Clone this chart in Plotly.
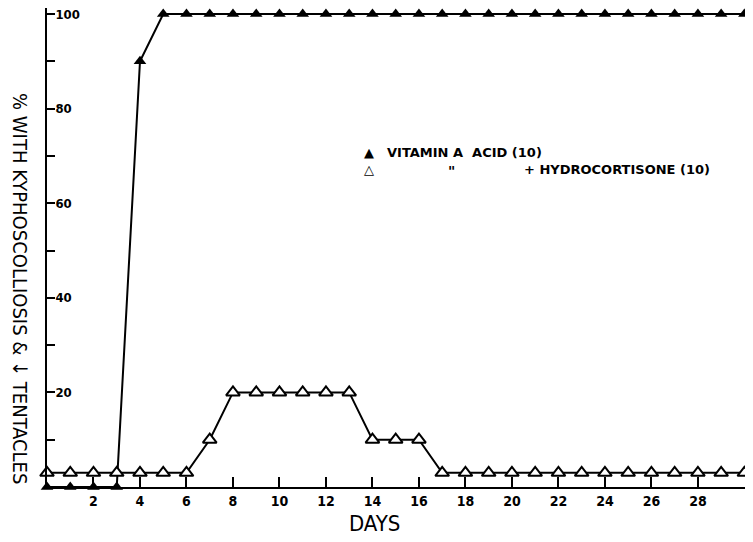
import plotly.graph_objects as go

days = list(range(0, 31))
vitamin_a = [0, 0, 0, 0, 90] + [100] * 26
vitamin_a_hc = [3, 3, 3, 3, 3, 3, 3, 10, 20, 20, 20, 20, 20, 20, 10, 10, 10] + [3] * 14

x_ticks = list(range(2, 30, 2))
y_ticks = list(range(10, 101, 10))
y_ticktext = ["" if v % 20 else str(v) for v in y_ticks]

FONT = "DejaVu Sans Condensed"

fig = go.Figure()
fig.add_trace(go.Scatter(
    x=days, y=vitamin_a, mode="lines+markers",
    line=dict(color="black", width=2),
    marker=dict(symbol="triangle-up", size=11, color="black"),
    cliponaxis=False, showlegend=False))
fig.add_trace(go.Scatter(
    x=days, y=vitamin_a_hc, mode="lines+markers",
    line=dict(color="black", width=2),
    marker=dict(symbol="triangle-up", size=12, color="white",
                line=dict(color="black", width=2)),
    cliponaxis=False, showlegend=False))

# the page body has an 8px margin: figure origin sits at (8, 8) in the photo
OFF = 8
W, H = 753, 542
L, R, T, B = 47 - OFF, OFF, 0, H - (487 - OFF)
pw, ph = W - L - R, H - T - B

def px(x):
    return (x - OFF - L) / pw

def py(y):
    return (H - B - (y - OFF)) / ph

ymax = (487 - OFF) / ((487 - 14) / 100)

ann = [
    dict(x=px(20), y=py(288), text="% WITH KYPHOSCOLLIOSIS & ↓ TENTACLES", textangle=90,
         font=dict(family=FONT, size=20, color="black")),
    dict(x=px(374), y=py(523), text="DAYS",
         font=dict(family=FONT, size=22, color="black")),
    dict(x=px(369), y=py(152), text="▲",
         font=dict(family="DejaVu Sans", size=13, color="black")),
    dict(x=px(385), y=py(152), text="VITAMIN A  ACID (10)", xanchor="left",
         font=dict(family="DejaVu Sans", size=13, color="black", weight="bold")),
    dict(x=px(369), y=py(170), text="△",
         font=dict(family="DejaVu Sans", size=13, color="black", weight="bold")),
    dict(x=px(451), y=py(171), text="\"",
         font=dict(family="DejaVu Sans", size=14, color="black", weight="bold")),
    dict(x=px(522), y=py(170), text="+ HYDROCORTISONE (10)", xanchor="left",
         font=dict(family="DejaVu Sans", size=13, color="black", weight="bold")),
]
for a in ann:
    a.update(xref="paper", yref="paper", showarrow=False, yanchor="middle")
    a.setdefault("xanchor", "center")

fig.update_layout(
    width=W, height=H,
    margin=dict(l=L, r=R, t=T, b=B),
    paper_bgcolor="white", plot_bgcolor="white",
    annotations=ann,
    xaxis=dict(range=[0, 30.37], showgrid=False, zeroline=False, automargin=False,
               showline=True, linecolor="black", linewidth=2,
               ticks="inside", ticklen=10, tickwidth=2, tickcolor="black",
               tickvals=x_ticks, ticktext=[str(v) for v in x_ticks],
               tickfont=dict(family=FONT, size=14, color="black", weight="bold")),
    yaxis=dict(range=[0, ymax], showgrid=False, zeroline=False, automargin=False,
               showline=True, linecolor="black", linewidth=2,
               ticks="inside", ticklen=8, tickwidth=2, tickcolor="black",
               tickvals=y_ticks, ticktext=y_ticktext,
               ticklabelposition="inside", ticklabeloverflow="allow",
               tickfont=dict(family=FONT, size=13, color="black", weight="bold")),
)

fig.write_html("out.html")
